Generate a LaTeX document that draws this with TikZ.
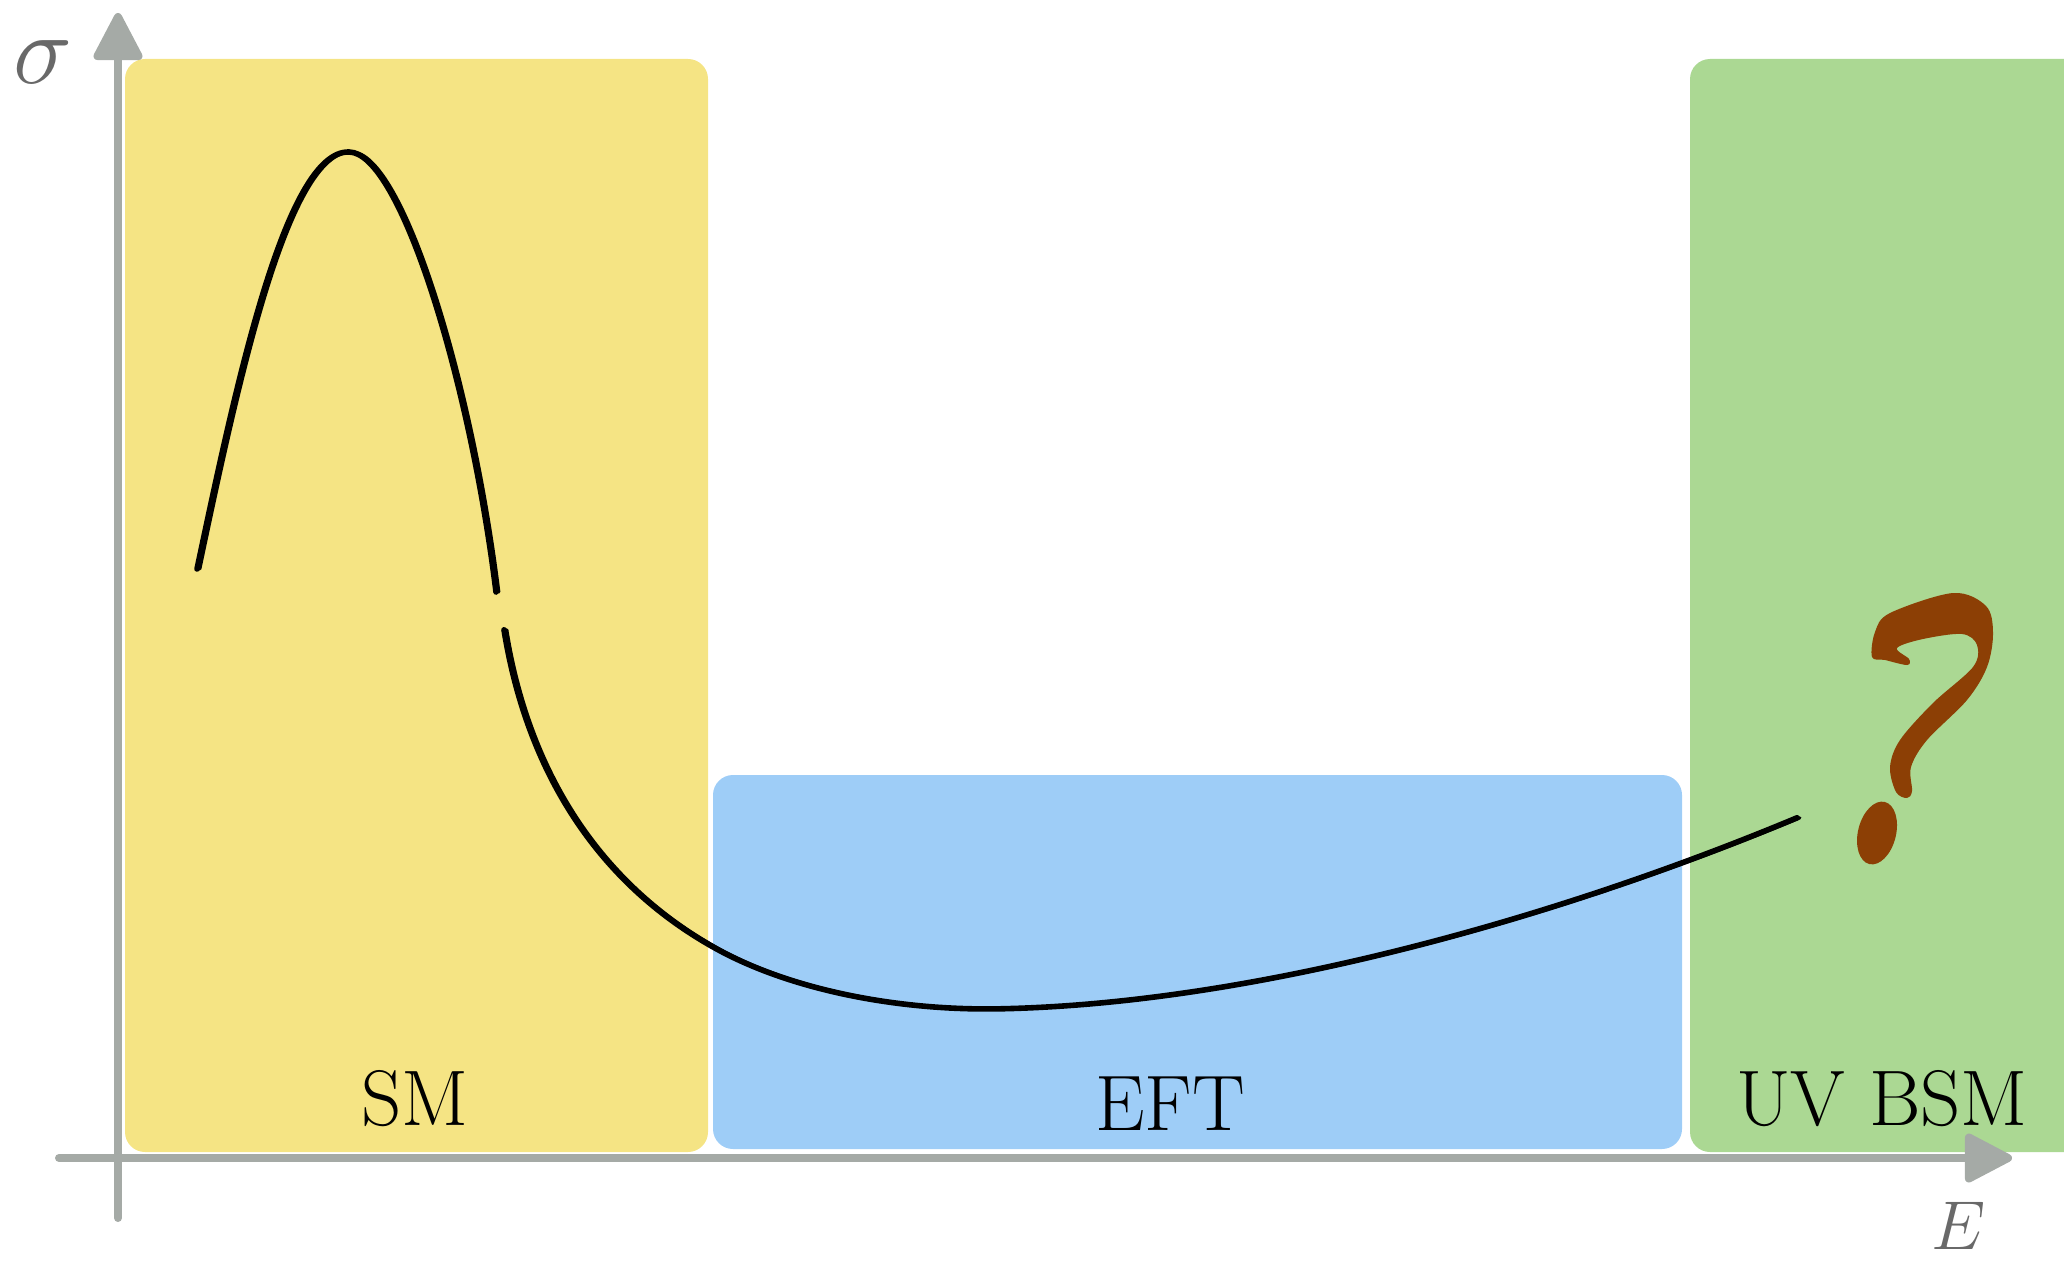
\documentclass[tikz,border=0pt]{standalone}
\usetikzlibrary{arrows.meta}
\definecolor{axisgray}{RGB}{165,170,166}
\definecolor{labelgray}{RGB}{105,105,105}
\definecolor{smfill}{RGB}{245,228,132}
\definecolor{eftfill}{RGB}{158,205,247}
\definecolor{uvfill}{RGB}{171,216,147}
\definecolor{qbrown}{RGB}{140,63,5}
\begin{document}
\begin{tikzpicture}[x=0.25pt,y=-0.25pt,
  region/.style={rounded corners=5pt},
  axisline/.style={draw=axisgray, line width=2pt, line cap=round,
    -{Triangle[length=13pt,width=13pt,round]}},
  regionlabel/.style={inner sep=0pt, font=\fontsize{19.7}{23}\selectfont},
  axislabel/.style={inner sep=0pt, text=labelgray},
  brush/.style={draw=black, line cap=round, line join=round}]
\useasboundingbox (0,0) rectangle (2064,1262);
\begin{scope}
\clip (0,0) rectangle (2064,1262);
% regions
\fill[smfill, region] (125,59) rectangle (708,1152);
\fill[eftfill, region] (713,775) rectangle (1682,1149);
\fill[uvfill, region] (1690,59) rectangle (2120,1152);
% labels
\node[regionlabel] (sm) at (415,1099) {SM};
\node[regionlabel] (eft) at (1170,1104) {EFT};
\node[regionlabel] (uv) at (1882,1099) {UV BSM};
% axes
\coordinate (yb) at (118,1218);
\coordinate (yt) at (118,13);
\coordinate (xl) at (59,1158);
\coordinate (xr) at (2012,1158);
\draw[axisline] (yb) -- (yt);
\draw[axisline] (xl) -- (xr);
\node[axislabel, font=\fontsize{23}{27}\selectfont] (sigma) at (43,62) {$\sigma$};
\node[axislabel, font=\fontsize{18.5}{22}\selectfont] (energy) at (1959,1226) {$E$};
% curve (brush stroke)
\foreach \dx/\w in {0/1.4pt, 0.7/0.8pt}{
\draw[brush, line width=\w, xshift=\dx pt]
  (197,569) .. controls (235,390) and (285,150) .. (349,152)
  .. controls (400,152) and (470,380) .. (496,592);
\draw[brush, line width=\w, xshift=\dx pt, yshift=-0.2pt]
  (504,629) .. controls (525,760) and (590,880) .. (720,950)
  .. controls (795,990) and (900,1010) .. (1000,1008)
  .. controls (1250,1003) and (1550,920) .. (1797,817);
}
% question mark
\fill[qbrown] plot[smooth cycle, tension=0.55] coordinates {
  (1907,798) (1912,791) (1911,767) (1927,740) (1967,700) (1987,667)
  (1993,633) (1986,606) (1953,593) (1890,613) (1875,632) (1872,657)
  (1885,660) (1907,665) (1909,659) (1897,648) (1923,639) (1962,634)
  (1977,645) (1973,667) (1933,703) (1900,740) (1890,767) (1896,792)};
\fill[qbrown, rotate around={-14:(1877,833)}] (1877,833) ellipse [x radius=19, y radius=32];
\end{scope}
\end{tikzpicture}
\end{document}
